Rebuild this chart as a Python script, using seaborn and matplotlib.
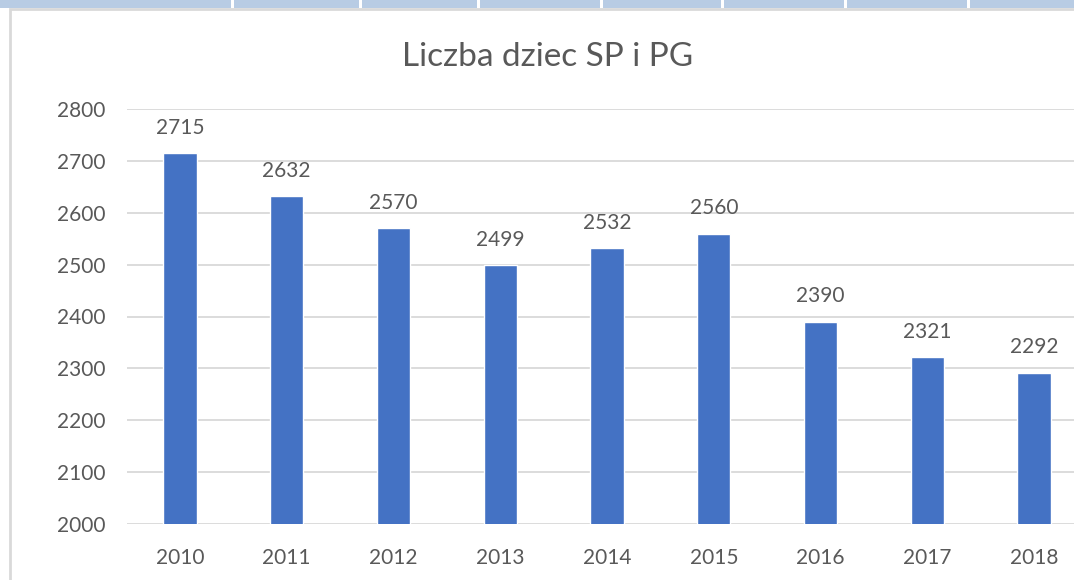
import numpy as np
import pandas as pd
import matplotlib.pyplot as plt
import seaborn as sns
from matplotlib.patches import Rectangle

# data
years = ["2010", "2011", "2012", "2013", "2014", "2015", "2016", "2017", "2018"]
children = [2715, 2632, 2570, 2499, 2532, 2560, 2390, 2321, 2292]
title = "Liczba dziec SP i PG"

df = pd.DataFrame({"rok": years, "liczba": children})

sns.set_theme(style="white")
plt.rcParams['font.family'] = ['Lato', 'DejaVu Sans']

txt = "#595959"
grid = "#D9D9D9"

fig = plt.figure(figsize=(10.74, 5.8), dpi=100)
ax = fig.add_axes([126.6 / 1074, 56 / 580, 960.8 / 1074, 415 / 580])

sns.barplot(data=df, x="rok", y="liczba", color="#4472C4", width=0.31,
            saturation=1, ax=ax, zorder=3)

ax.set_ylim(2000, 2800)
ax.set_xlim(-0.5, len(years) - 0.5)
ax.set_yticks(np.arange(2000, 2801, 100))
ax.yaxis.grid(True, color=grid, linewidth=1.3, zorder=0)
ax.xaxis.grid(False)
for s in ax.spines.values():
    s.set_visible(False)
ax.set_xlabel("")
ax.set_ylabel("")
ax.tick_params(axis="y", length=0, pad=15, labelsize=15, labelcolor=txt)
ax.tick_params(axis="x", length=0, pad=17, labelsize=15, labelcolor=txt)

# value labels above bars
for i, v in enumerate(children):
    ax.annotate(str(v), (i, v), xytext=(0, 11), textcoords="offset points",
                ha="center", va="bottom", fontsize=15, color=txt)

fig.text(548 / 1074, 1 - 57 / 580, title, ha="center", va="center",
         fontsize=24, color=txt)

# spreadsheet cell strip and chart border
fig.patches.append(Rectangle((0, 1 - 8 / 580), 1, 8 / 580, transform=fig.transFigure,
                             facecolor="#B8CCE4", edgecolor="none", zorder=5))
for xs in [231, 359, 477, 600, 721, 844, 967]:
    fig.patches.append(Rectangle((xs / 1074, 1 - 8 / 580), 2.5 / 1074, 8 / 580,
                                 transform=fig.transFigure, facecolor="white",
                                 edgecolor="none", zorder=6))
fig.patches.append(Rectangle((9.5 / 1074, -0.1), 1.2, 1.1 - 9.5 / 580,
                             transform=fig.transFigure, facecolor="none",
                             edgecolor=grid, linewidth=2, zorder=4))

fig.savefig("out.png", dpi=100)
